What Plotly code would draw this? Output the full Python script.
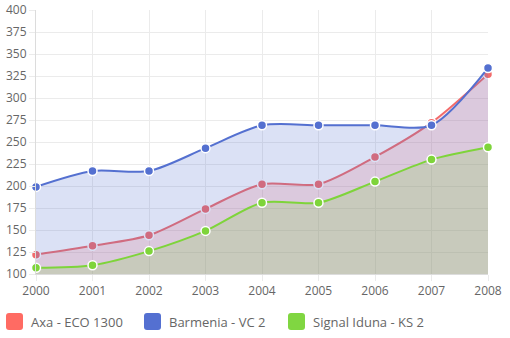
import plotly.graph_objects as go

years = [2000, 2001, 2002, 2003, 2004, 2005, 2006, 2007, 2008]
axa = [122, 132, 144, 174, 202, 202, 233, 272, 327]
barmenia = [199, 217, 217, 243, 269, 269, 269, 269, 334]
signal = [107, 110, 126, 149, 181, 181, 205, 230, 244]

series = [
    ("Axa - ECO 1300", axa, "#f26b6b", "rgba(255,107,107,0.2)", "#ff6b63"),
    ("Barmenia - VC 2", barmenia, "#5470d0", "rgba(84,112,208,0.21)", "#5470d1"),
    ("Signal Iduna - KS 2", signal, "#7ed43a", "rgba(126,212,58,0.2)", "#80d641"),
]

fig = go.Figure()
for name, vals, line_c, fill_c, _ in series:
    fig.add_trace(go.Scatter(
        x=years, y=vals, name=name, mode="lines+markers",
        line=dict(color=line_c, width=2, shape="spline", smoothing=0.8),
        marker=dict(size=9, color=line_c, line=dict(color="white", width=1.5)),
        fill="tozeroy", fillcolor=fill_c, showlegend=False,
        cliponaxis=False,
    ))

# plot area geometry in pixels (for legend placement in paper units)
L, R, T, B = 36, 488, 10, 274
W, H = R - L, B - T


def px(x):
    return (x - L) / W


def py(y):
    return (B - y) / H


def rounded_rect(x0, y0, x1, y1, r):
    rx, ry = r / W, r / H
    a0, a1 = px(x0), px(x1)
    b0, b1 = py(y0), py(y1)  # b0 top, b1 bottom
    return (f"M{a0+rx},{b0} L{a1-rx},{b0} Q{a1},{b0} {a1},{b0-ry} "
            f"L{a1},{b1+ry} Q{a1},{b1} {a1-rx},{b1} L{a0+rx},{b1} "
            f"Q{a0},{b1} {a0},{b1+ry} L{a0},{b0-ry} Q{a0},{b0} {a0+rx},{b0} Z")


legend_x = [6, 144, 288]
for (name, _, _, _, box_c), lx in zip(series, legend_x):
    fig.add_shape(type="path", xref="paper", yref="paper",
                  path=rounded_rect(lx, 313, lx + 17, 330, 3),
                  fillcolor=box_c, line=dict(width=0))
    fig.add_annotation(x=px(lx + 23), y=py(321.5), xref="paper", yref="paper",
                       text=name, showarrow=False, xanchor="left", yanchor="middle",
                       font=dict(family="Open Sans", size=13, color="#666666"))

fig.update_layout(
    width=510, height=338,
    margin=dict(l=L, r=510 - R, t=T, b=338 - B, autoexpand=False),
    paper_bgcolor="white", plot_bgcolor="white",
    font=dict(family="Open Sans", size=12, color="#666666"),
    xaxis=dict(range=[2000, 2008], tickmode="array", tickvals=years,
               ticktext=[str(y) for y in years], showgrid=True,
               gridcolor="#ebebeb", gridwidth=1, zeroline=False,
               showline=True, linecolor="#dcdcdc", linewidth=1,
               ticks="outside", ticklen=6, tickcolor="#ebebeb", automargin=False),
    yaxis=dict(range=[100, 400], dtick=25, tick0=100, showgrid=True,
               gridcolor="#ebebeb", gridwidth=1, zeroline=False,
               showline=True, linecolor="#dcdcdc", linewidth=1,
               ticks="outside", ticklen=6, tickcolor="#ebebeb", automargin=False),
)

fig.write_html("out.html")
